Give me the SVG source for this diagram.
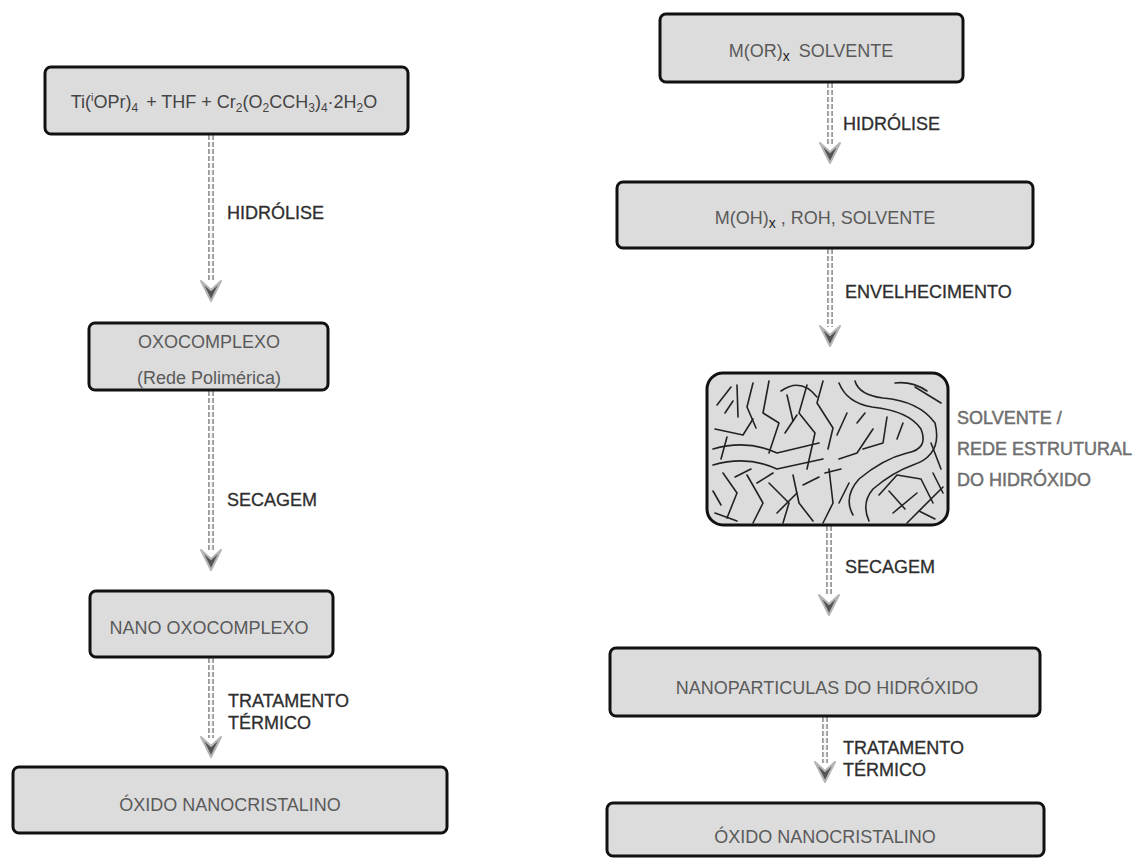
<svg xmlns="http://www.w3.org/2000/svg" width="1141" height="863" viewBox="0 0 1141 863">
  <defs>
    <style>
      .box { fill: #dcdcdc; stroke: #111; stroke-width: 3; }
      .btxt { font-family: "Liberation Sans", Arial, sans-serif; font-size: 18px; fill: #5a5a5a; text-anchor: middle; }
      .lbl { font-family: "Liberation Sans", Arial, sans-serif; font-size: 18px; fill: #2e2e2e; stroke: #2e2e2e; stroke-width: 0.3; }
      .side { font-family: "Liberation Sans", Arial, sans-serif; font-size: 18px; fill: #777; stroke: #555; stroke-width: 0.4; }
      .chainA { stroke: #9a9a9a; stroke-width: 6; stroke-dasharray: 5 2; fill: none; }
      .chainB { stroke: #f4f4f4; stroke-width: 2.5; stroke-dasharray: 5 2; fill: none; }
      .net { fill: none; stroke: #222; stroke-width: 1.6; stroke-linecap: round; stroke-linejoin: round; }
    </style>
    <path id="head" d="M-10,-4 L0,16 L10,-4 L0,5 Z" fill="#555" stroke="#b5b5b5" stroke-width="2" stroke-linejoin="round"/>
  </defs>

  <rect width="1141" height="863" fill="#ffffff"/>

  <!-- connectors -->
  <g id="connectors">
    <!-- left column -->
    <line class="chainA" x1="211" y1="135" x2="211" y2="282"/>
    <line class="chainB" x1="211" y1="135" x2="211" y2="282"/>
    <use href="#head" x="211" y="285"/>

    <line class="chainA" x1="211" y1="391" x2="211" y2="551"/>
    <line class="chainB" x1="211" y1="391" x2="211" y2="551"/>
    <use href="#head" x="211" y="554"/>

    <line class="chainA" x1="211" y1="658" x2="211" y2="738"/>
    <line class="chainB" x1="211" y1="658" x2="211" y2="738"/>
    <use href="#head" x="211" y="741"/>

    <!-- right column -->
    <line class="chainA" x1="830" y1="83" x2="830" y2="144"/>
    <line class="chainB" x1="830" y1="83" x2="830" y2="144"/>
    <use href="#head" x="830" y="147"/>

    <line class="chainA" x1="830" y1="249" x2="830" y2="327"/>
    <line class="chainB" x1="830" y1="249" x2="830" y2="327"/>
    <use href="#head" x="830" y="330"/>

    <line class="chainA" x1="829" y1="526" x2="829" y2="596"/>
    <line class="chainB" x1="829" y1="526" x2="829" y2="596"/>
    <use href="#head" x="829" y="599"/>

    <line class="chainA" x1="825" y1="717" x2="825" y2="763"/>
    <line class="chainB" x1="825" y1="717" x2="825" y2="763"/>
    <use href="#head" x="825" y="766"/>

    <!-- step labels -->
    <text class="lbl" x="227" y="219">HIDRÓLISE</text>
    <text class="lbl" x="227" y="506">SECAGEM</text>
    <text class="lbl" x="228" y="707">TRATAMENTO</text>
    <text class="lbl" x="228" y="729">TÉRMICO</text>

    <text class="lbl" x="843" y="130">HIDRÓLISE</text>
    <text class="lbl" x="845" y="298">ENVELHECIMENTO</text>
    <text class="lbl" x="845" y="573">SECAGEM</text>
    <text class="lbl" x="843" y="754">TRATAMENTO</text>
    <text class="lbl" x="843" y="776">TÉRMICO</text>
  </g>

  <!-- left column nodes -->
  <g id="precursores">
    <rect class="box" x="45" y="67" width="363" height="67" rx="6"/>
    <text class="btxt" x="224" y="108" style="fill:#444">Ti(<tspan font-size="11" dy="-7">i</tspan><tspan dy="7">OPr)</tspan><tspan font-size="12" dy="4">4</tspan><tspan dy="-4" dx="8">+ THF + Cr</tspan><tspan font-size="12" dy="4">2</tspan><tspan dy="-4">(O</tspan><tspan font-size="12" dy="4">2</tspan><tspan dy="-4">CCH</tspan><tspan font-size="12" dy="4">3</tspan><tspan dy="-4">)</tspan><tspan font-size="12" dy="4">4</tspan><tspan dy="-4">·2H</tspan><tspan font-size="12" dy="4">2</tspan><tspan dy="-4">O</tspan></text>
  </g>

  <g id="oxocomplexo">
    <rect class="box" x="89" y="323" width="239" height="67" rx="6"/>
    <text class="btxt" x="209" y="348">OXOCOMPLEXO</text>
    <text class="btxt" x="209" y="384">(Rede Polimérica)</text>
  </g>

  <g id="nano-oxocomplexo">
    <rect class="box" x="90" y="591" width="243" height="66" rx="6"/>
    <text class="btxt" x="209" y="634">NANO OXOCOMPLEXO</text>
  </g>

  <g id="oxido-esquerda">
    <rect class="box" x="13" y="767" width="434" height="66" rx="6"/>
    <text class="btxt" x="230" y="811">ÓXIDO NANOCRISTALINO</text>
  </g>

  <!-- right column nodes -->
  <g id="alcoxido">
    <rect class="box" x="660" y="14" width="303" height="68" rx="6"/>
    <text class="btxt" x="811" y="57">M(OR)<tspan font-size="14" dy="4" style="fill:#222">x</tspan><tspan dy="-4" dx="9">SOLVENTE</tspan></text>
  </g>

  <g id="hidroxido">
    <rect class="box" x="617" y="182" width="416" height="66" rx="6"/>
    <text class="btxt" x="825" y="224">M(OH)<tspan font-size="14" dy="4" style="fill:#222">x</tspan><tspan dy="-4"> , ROH, SOLVENTE</tspan></text>
  </g>

  <g id="rede-estrutural">
    <rect class="box" x="707" y="373" width="241" height="152" rx="16"/>
    <g class="net" transform="translate(707,373)">
      <!-- branching strands of the hydroxide network -->
      <path d="M10,32 L24,14"/>
      <path d="M8,56 L36,62 L46,46"/>
      <path d="M30,12 L31,44"/>
      <path d="M46,10 L40,34 L49,55"/>
      <path d="M62,8 L56,40 L72,50 L62,80"/>
      <path d="M74,18 Q94,4 110,24"/>
      <path d="M100,12 L92,40 L108,60 L100,96"/>
      <path d="M116,8 L110,30 L126,55 L121,76"/>
      <path d="M132,10 Q140,30 165,34 Q202,38 214,56 Q222,76 200,80 Q176,86 152,106 Q136,124 146,142"/>
      <path d="M148,8 Q152,22 176,25 Q212,28 228,50 Q236,82 206,92 Q186,99 166,116 Q154,130 162,148"/>
      <path d="M6,76 Q40,66 70,80 L112,70"/>
      <path d="M6,92 Q40,82 70,96 L116,86"/>
      <path d="M16,100 L30,120 L20,145"/>
      <path d="M40,102 L56,130 L46,150"/>
      <path d="M62,110 L82,130 L76,150"/>
      <path d="M86,102 L92,130 L106,148"/>
      <path d="M122,96 L126,130 L116,150"/>
      <path d="M172,122 L190,102 L214,106 L226,130"/>
      <path d="M186,140 L210,120"/>
      <path d="M200,150 L236,114"/>
      <path d="M180,44 L176,70 L156,76"/>
      <path d="M196,50 L190,66"/>
      <path d="M208,14 L234,30"/>
      <path d="M166,56 L150,80 L132,86"/>
      <path d="M6,118 L14,132"/>
      <path d="M8,140 L30,148"/>
      <path d="M140,40 L130,62"/>
      <path d="M224,70 L234,96"/>
      <path d="M188,10 Q205,8 220,18"/>
      <path d="M18,40 L26,28"/>
      <path d="M78,60 L90,42"/>
      <path d="M80,22 L86,48"/>
      <path d="M28,104 L44,96"/>
      <path d="M50,110 L66,100"/>
      <path d="M96,112 L112,104"/>
      <path d="M70,140 L90,120"/>
      <path d="M132,130 L142,110"/>
      <path d="M182,118 L198,136"/>
      <path d="M212,138 L228,146"/>
      <path d="M150,50 L158,40"/>
      <path d="M226,100 L236,120"/>
      <path d="M118,100 L134,96"/>
      <path d="M20,64 L14,86"/>
    </g>
    <text class="side" x="957" y="424">SOLVENTE /</text>
    <text class="side" x="957" y="455">REDE ESTRUTURAL</text>
    <text class="side" x="957" y="486">DO HIDRÓXIDO</text>
  </g>

  <g id="nanoparticulas">
    <rect class="box" x="610" y="648" width="430" height="68" rx="6"/>
    <text class="btxt" x="827" y="694">NANOPARTICULAS DO HIDRÓXIDO</text>
  </g>

  <g id="oxido-direita">
    <rect class="box" x="607" y="803" width="437" height="53" rx="6"/>
    <text class="btxt" x="825" y="843">ÓXIDO NANOCRISTALINO</text>
  </g>
</svg>
